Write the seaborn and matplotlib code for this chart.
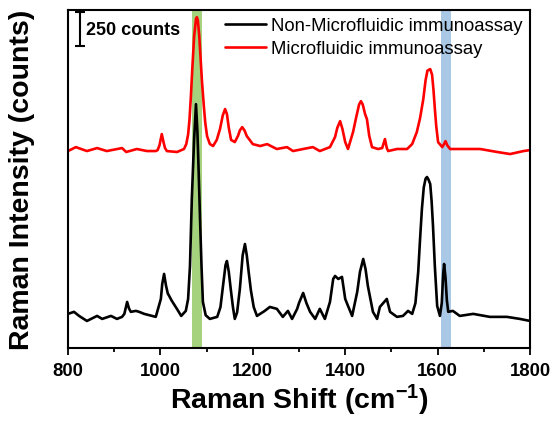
import numpy as np
import pandas as pd
import matplotlib
matplotlib.use("Agg")
import matplotlib.pyplot as plt
import seaborn as sns

# Raman shift (cm-1) and intensities (counts)
shift_non = [800, 813, 824, 841, 863, 874, 893, 906, 917, 922, 928, 932, 936, 947, 954, 965,
             990, 1001, 1004, 1008, 1012, 1016, 1019, 1024, 1029, 1037, 1045, 1055, 1060,
             1064, 1068, 1073, 1077, 1080, 1082, 1086, 1089, 1092, 1098, 1107,
             1123, 1130, 1136, 1141, 1144, 1148, 1152, 1157, 1161, 1166, 1172, 1178, 1183,
             1187, 1191, 1196, 1202, 1209, 1225, 1237, 1252, 1265, 1276, 1285, 1296, 1300,
             1309, 1316, 1324, 1335, 1345, 1356, 1367, 1374, 1378, 1385, 1393, 1400, 1406,
             1415, 1426, 1432, 1439, 1444, 1449, 1460, 1469, 1475, 1490, 1497, 1512, 1525,
             1536, 1545, 1552, 1558, 1562, 1566, 1570, 1574, 1577, 1580, 1584, 1587, 1590,
             1594, 1599, 1605, 1609, 1612, 1614, 1617, 1620, 1623, 1633, 1648, 1677, 1713,
             1750, 1778, 1800]
int_non = [250, 265, 235, 198, 235, 213, 235, 213, 228, 250, 338, 290, 265, 272, 265, 250,
           228, 360, 470, 544, 460, 400, 382, 350, 323, 280, 235, 272, 360,
           600, 1095, 1536, 1793, 1600, 1389, 926, 600, 338, 240, 213,
           228, 300, 470, 610, 639, 560, 440, 300, 213, 260, 434, 680, 764,
           680, 560, 420, 300, 235, 270, 301, 287, 228, 272, 213, 287, 330,
           404, 330, 265, 213, 287, 213, 338, 507, 529, 507, 522, 360, 309,
           235, 412, 560, 654, 580, 456, 265, 213, 301, 360, 265, 228, 235,
           272, 250, 330, 560, 800, 1022, 1180, 1245, 1257, 1240, 1205, 1080, 897,
           600, 309, 235, 330, 540, 617, 520, 350, 265, 272, 235, 250, 228,
           228, 213, 198]

shift_mic = [800, 817, 841, 863, 884, 917, 926, 949, 971, 990, 994, 998, 1003, 1007, 1010,
             1014, 1036, 1051, 1056, 1060, 1063, 1066, 1069, 1073, 1077, 1079, 1081, 1084,
             1087, 1090, 1094, 1097, 1101, 1107, 1114, 1122, 1129, 1135, 1140, 1144, 1148,
             1153, 1161, 1168, 1172, 1177, 1182, 1187, 1200, 1216, 1231, 1252, 1274, 1287,
             1309, 1330, 1345, 1367, 1378, 1383, 1389, 1394, 1400, 1406, 1417, 1424, 1430,
             1434, 1438, 1443, 1447, 1452, 1458, 1471, 1480, 1486, 1490, 1493, 1512, 1534,
             1545, 1555, 1562, 1569, 1574, 1578, 1584, 1588, 1591, 1594, 1597, 1601, 1610,
             1614, 1617, 1621, 1627, 1655, 1692, 1729, 1757, 1786, 1800]
int_mic = [1448, 1477, 1448, 1470, 1448, 1470, 1441, 1463, 1448, 1448, 1455, 1490, 1573, 1510,
           1470, 1448, 1441, 1463, 1499, 1570, 1680, 1850, 2050, 2290, 2420, 2433, 2410,
           2300, 2130, 1960, 1780, 1660, 1558, 1500, 1485, 1530, 1610, 1710, 1757, 1720,
           1620, 1530, 1514, 1560, 1600, 1624, 1600, 1558, 1499, 1485, 1499, 1463, 1477,
           1448, 1463, 1477, 1448, 1477, 1551, 1620, 1668, 1610, 1514, 1463, 1588, 1700,
           1790, 1815, 1790, 1720, 1683, 1560, 1477, 1463, 1470, 1536, 1470, 1448, 1463,
           1463, 1500, 1588, 1690, 1830, 1970, 2040, 2051, 2010, 1900, 1760, 1632, 1514,
           1477, 1500, 1521, 1490, 1463, 1463, 1463, 1441, 1426, 1448, 1455]

labels = ["Non-Microfluidic immunoassay", "Microfluidic immunoassay"]
x_ticks = [800, 1000, 1200, 1400, 1600, 1800]

df = pd.concat([
    pd.DataFrame({"shift": shift_non, "intensity": int_non, "sample": labels[0]}),
    pd.DataFrame({"shift": shift_mic, "intensity": int_mic, "sample": labels[1]}),
], ignore_index=True)

sns.set_style("ticks")
plt.rcParams["font.family"] = ["Liberation Sans", "DejaVu Sans"]
plt.rcParams["mathtext.fontset"] = "custom"
plt.rcParams["mathtext.rm"] = "Liberation Sans"
plt.rcParams["mathtext.bf"] = "Liberation Sans:bold"
plt.rcParams["text.color"] = "black"
plt.rcParams["axes.labelcolor"] = "black"
plt.rcParams["xtick.color"] = "black"
plt.rcParams["xtick.labelcolor"] = "black"

fig = plt.figure(figsize=(5.55, 4.27), dpi=100)
ax = fig.add_axes([0.1225, 0.183, 0.8325, 0.791])

ax.axvspan(1068, 1090, color="#a5d27c", zorder=0, lw=0)
ax.axvspan(1607, 1629, color="#a9c8e6", zorder=0, lw=0)

sns.lineplot(data=df, x="shift", y="intensity", hue="sample", hue_order=labels,
             palette={labels[0]: "black", labels[1]: "red"}, sort=False,
             linewidth=1.9, ax=ax, zorder=2, solid_joinstyle="round")

ax.set_xlim(800, 1800)
ax.set_ylim(0, 2485)
ax.set_xticks(x_ticks)
ax.set_xticklabels([str(t) for t in x_ticks], fontsize=13.3, fontweight="bold", color="black")
ax.set_xticks([900, 1100, 1300, 1500, 1700], minor=True)
ax.tick_params(axis="x", which="major", length=5, width=1.3, direction="out", pad=5,
               color="black")
ax.tick_params(axis="x", which="minor", length=3, width=1.3, direction="out", color="black")
ax.set_yticks([])
for s in ax.spines.values():
    s.set_visible(True)
    s.set_linewidth(1.5)
    s.set_color("black")

ax.set_xlabel(r"Raman Shift (cm$\mathbf{^{-1}}$)", fontsize=20.5, fontweight="bold",
              labelpad=2, color="black")
ax.set_ylabel("Raman Intensity (counts)", fontsize=20.5, fontweight="bold", labelpad=24,
              color="black")

# scale bar: 250 counts
ax.errorbar([826], [2345], yerr=[125], color="black", capsize=3.5, elinewidth=1.5,
            capthick=1.5, zorder=3)
ax.text(840, 2345, "250 counts", fontsize=13, fontweight="bold", va="center", ha="left",
        color="black")

leg = ax.legend(loc="upper right", frameon=False, fontsize=13.3, handlelength=2.2,
                borderaxespad=0.0, borderpad=0.4, labelspacing=0.3, handletextpad=0.3,
                bbox_to_anchor=(1.0, 1.0), labelcolor="black")
for line in leg.get_lines():
    line.set_linewidth(1.9)

fig.savefig("out.png", dpi=100)
